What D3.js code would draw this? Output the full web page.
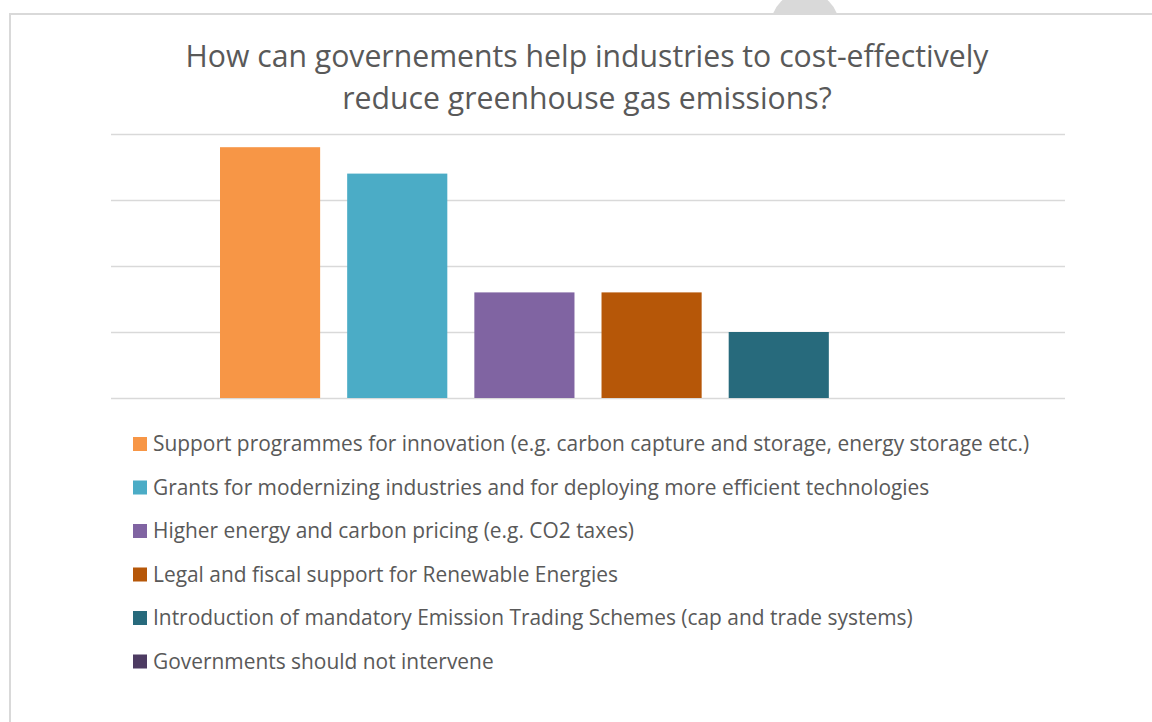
<!DOCTYPE html>
<html><head><meta charset="utf-8">
<script src="https://cdn.jsdelivr.net/npm/d3@7/dist/d3.min.js"></script>
<style>html,body{margin:0;padding:0;background:#fff;overflow:hidden}</style>
</head><body>
<svg id="chart" width="1152" height="722"></svg>
<script>
const titleLines = ["How can governements help industries to cost-effectively", "reduce greenhouse gas emissions?"];
const series = [
  "Support programmes for innovation (e.g. carbon capture and storage, energy storage etc.)",
  "Grants for modernizing industries and for deploying more efficient technologies",
  "Higher energy and carbon pricing (e.g. CO2 taxes)",
  "Legal and fiscal support for Renewable Energies",
  "Introduction of mandatory Emission Trading Schemes (cap and trade systems)",
  "Governments should not intervene"
];
const values = [19, 17, 8, 8, 5, 0];
const colors = ["#F79646", "#4BACC6", "#8064A2", "#B65708", "#276A7C", "#4D3B62"];
const yTicks = [0, 5, 10, 15, 20];

const svg = d3.select("#chart");
const FONT = "'Open Sans', 'Noto Sans', sans-serif";

// background decoration & border
svg.append("circle").attr("cx", 805).attr("cy", 25.5).attr("r", 34).attr("fill", "#d9d9d9");
svg.append("rect").attr("x", 10).attr("y", 14).attr("width", 1160).attr("height", 730)
  .attr("fill", "#fff").attr("stroke", "#d9d9d9").attr("stroke-width", 2);

const plot = {left: 111, right: 1065, top: 134, bottom: 398};
const y = d3.scaleLinear().domain([0, 20]).range([plot.bottom, plot.top]);

// gridlines via axis
const yAxis = d3.axisLeft(y).tickValues(yTicks).tickSize(-(plot.right - plot.left)).tickFormat("");
const ga = svg.append("g").attr("transform", `translate(${plot.left},0)`).call(yAxis);
ga.select(".domain").remove();
ga.selectAll(".tick line").attr("stroke", "#d9d9d9").attr("stroke-width", 1.5);

// cluster of bars (single category, series side by side)
const center = (plot.left + plot.right) / 2;
const clusterW = 736;
const x = d3.scaleBand().domain(series).range([center - clusterW / 2, center + clusterW / 2])
  .paddingInner(27 / 127).paddingOuter(0);

svg.append("g").selectAll("rect").data(series).join("rect")
  .attr("x", d => x(d))
  .attr("y", (d, i) => y(values[i]))
  .attr("width", x.bandwidth())
  .attr("height", (d, i) => y(0) - y(values[i]))
  .attr("fill", (d, i) => colors[i]);

// redraw baseline on top lightly
// title
const title = svg.append("g");
const tl = title.selectAll("text").data(titleLines).join("text")
  .attr("x", 587).attr("y", (d, i) => 67 + i * 42)
  .attr("text-anchor", "middle").attr("fill", "#595959")
  .style("font-family", FONT).style("font-size", "30px").text(d => d);
// fit title width to reference
{
  const w = tl.nodes()[0].getComputedTextLength();
  const fs = 30 * 803 / w;
  tl.style("font-size", fs + "px");
}

// legend
const lg = svg.append("g");
const rows = lg.selectAll("g").data(series).join("g")
  .attr("transform", (d, i) => `translate(133, ${444 + i * 43.5})`);
rows.append("rect").attr("x", 0).attr("y", -7).attr("width", 14).attr("height", 14)
  .attr("fill", (d, i) => colors[i]);
const lt = rows.append("text").attr("x", 20).attr("y", 0).attr("dy", "0.35em")
  .attr("fill", "#595959").style("font-family", FONT).style("font-size", "18px").text(d => d);
{
  const w = lt.nodes()[0].getComputedTextLength();
  const fs = 18 * 877 / w;
  lt.style("font-size", fs + "px");
}
</script>
</body></html>
